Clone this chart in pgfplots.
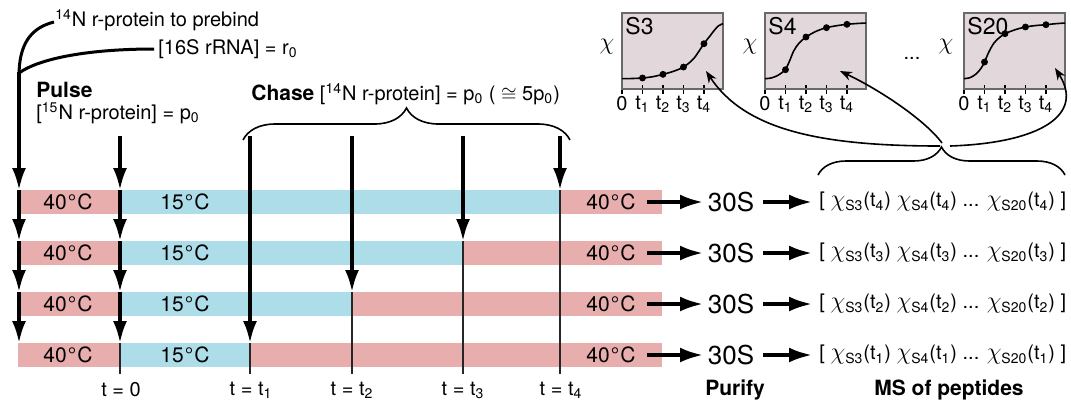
\documentclass[border=0pt]{standalone}
\usepackage{pgfplots}
\pgfplotsset{compat=1.18}
\usepackage{fontspec}
\setmainfont{TeX Gyre Heros}
\usetikzlibrary{arrows.meta,decorations.pathreplacing}

\definecolor{warm}{RGB}{232,174,174}
\definecolor{cool}{RGB}{173,221,232}
\definecolor{panel}{RGB}{226,216,219}
\definecolor{frame}{RGB}{105,105,105}

\newcommand\fs[1]{\fontsize{#1}{#1}\selectfont}
\newcommand\sub[1]{\textsubscript{#1}}
\newcommand\chis[1]{{\fs{12}$\chi$}\textsubscript{#1}}
\newcommand\chirow[1]{[ \chis{S3}(t\sub{#1}) \chis{S4}(t\sub{#1}) ... \chis{S20}(t\sub{#1}) ]}
\newcommand\hot{40\kern0.6pt°\kern0.6pt C}
\newcommand\cold{15\kern0.6pt°\kern0.6pt C}

\pgfplotsset{
  inset/.style={
    scale only axis, width=50.5pt, height=38pt,
    xmin=0, xmax=4.93, ymin=0, ymax=1,
    axis background/.style={fill=panel},
    axis line style={frame, line width=0.6pt},
    xtick={0,1,2,3,4},
    xticklabels={0,t\sub{1},t\sub{2},t\sub{3},t\sub{4}},
    ytick=\empty, xtick pos=left,
    tick align=center, major tick length=4.5pt,
    tick style={black, line width=0.6pt},
    xticklabel style={font=\fs{10}, inner sep=1pt},
    clip=false,
  },
  curve/.style={black, line width=0.8pt, smooth, no marks},
  dots/.style={only marks, mark=*, mark size=1.5pt, black},
}

\tikzset{
  bigarrow/.style={line width=1.7pt, -{Latex[length=11pt,width=7pt]}},
  rowarrow/.style={line width=1.8pt, -{Latex[length=11.5pt,width=7.5pt]}},
  thinrule/.style={line width=0.6pt, black!85},
  txt/.style={inner sep=0pt, font=\fs{10}},
  temp/.style={inner sep=0pt, font=\fs{10.5}},
  bend arrow/.style={overlay, line width=0.8pt, -{Stealth[length=6pt,width=4.5pt]}},
}

\begin{document}
\begin{tikzpicture}
% incorporation curves (panels placed in the 0.5pt-per-unit frame of the scheme below)
\begin{axis}[inset, at={(311pt,195.5pt)}, anchor=north west]
\addplot[curve] coordinates {(0,0.136) (0.5,0.138) (1,0.145) (1.5,0.162) (2,0.193) (2.5,0.232) (3,0.289) (3.5,0.40) (4,0.596) (4.3,0.70) (4.5,0.77) (4.7,0.83) (4.93,0.86)};
\addplot[dots] coordinates {(1,0.145) (2,0.193) (3,0.289) (4,0.596)};
\node[anchor=north west, inner sep=0pt, font=\fs{11.5}] at (rel axis cs:0.03,0.95) {S3};
\end{axis}
\begin{axis}[inset, at={(382.5pt,195.5pt)}, anchor=north west]
\addplot[curve] coordinates {(0,0.136) (0.3,0.145) (0.6,0.175) (0.85,0.22) (1,0.254) (1.2,0.37) (1.4,0.50) (1.65,0.60) (2,0.684) (2.5,0.76) (3,0.807) (3.5,0.833) (4,0.851) (4.5,0.862) (4.93,0.868)};
\addplot[dots] coordinates {(1,0.254) (2,0.684) (3,0.807) (4,0.851)};
\node[anchor=north west, inner sep=0pt, font=\fs{11.5}] at (rel axis cs:0.03,0.95) {S4};
\end{axis}
\begin{axis}[inset, at={(482pt,195.5pt)}, anchor=north west]
\addplot[curve] coordinates {(0,0.136) (0.3,0.15) (0.6,0.20) (0.85,0.28) (1,0.355) (1.2,0.48) (1.45,0.60) (1.7,0.67) (2,0.728) (2.5,0.78) (3,0.816) (3.5,0.835) (4,0.846) (4.5,0.86) (4.93,0.868)};
\addplot[dots] coordinates {(1,0.355) (2,0.728) (3,0.816) (4,0.846)};
\node[anchor=north west, inner sep=0pt, font=\fs{11.5}] at (rel axis cs:0.03,0.95) {S20};
\end{axis}

\begin{axis}[
  x=0.5pt, y=0.5pt, xmin=0, xmax=1071, ymin=0, ymax=404, y dir=reverse,
  hide axis, clip=false]
\addplot[draw=none, forget plot] coordinates {(0,0) (1071,404)};

% incubation rows: 40 C throughout, 15 C from t = 0 until the chase time of the row
\addplot[fill=warm, draw=none] coordinates {(18,190) (662,190) (662,214) (18,214)};
\addplot[fill=warm, draw=none] coordinates {(18,241) (662,241) (662,265) (18,265)};
\addplot[fill=warm, draw=none] coordinates {(18,292) (662,292) (662,316) (18,316)};
\addplot[fill=warm, draw=none] coordinates {(18,343) (662,343) (662,367) (18,367)};
\addplot[fill=cool, draw=none] coordinates {(120,190) (560,190) (560,214) (120,214)};
\addplot[fill=cool, draw=none] coordinates {(120,241) (463,241) (463,265) (120,265)};
\addplot[fill=cool, draw=none] coordinates {(120,292) (352,292) (352,316) (120,316)};
\addplot[fill=cool, draw=none] coordinates {(120,343) (250,343) (250,367) (120,367)};

% temperature labels
\pgfplotsinvokeforeach{202,253,304,355}{
  \node[temp] at (68,#1) {\hot};
  \node[temp] at (185,#1) {\cold};
  \node[temp] at (611,#1) {\hot};
  \node[txt, font=\fs{13}] at (731,#1) {30S};
}

% thin time markers below each chase point
\addplot[thinrule] coordinates {(120,343) (120,374)};
\addplot[thinrule] coordinates {(250,343) (250,374)};
\addplot[thinrule] coordinates {(352,292) (352,374)};
\addplot[thinrule] coordinates {(463,241) (463,374)};
\addplot[thinrule] coordinates {(560,190) (560,374)};

% prebinding line
\addplot[bigarrow] coordinates {(19,72) (19,190)};
\addplot[bigarrow] coordinates {(19,190) (19,241)};
\addplot[bigarrow] coordinates {(19,241) (19,292)};
\addplot[bigarrow] coordinates {(19,292) (19,343)};
% pulse line
\addplot[bigarrow] coordinates {(120,136) (120,190)};
\addplot[bigarrow] coordinates {(120,190) (120,241)};
\addplot[bigarrow] coordinates {(120,241) (120,292)};
\addplot[bigarrow] coordinates {(120,292) (120,343)};
% chase lines
\addplot[bigarrow] coordinates {(250,136) (250,343)};
\addplot[bigarrow] coordinates {(352,136) (352,292)};
\addplot[bigarrow] coordinates {(463,136) (463,241)};
\addplot[bigarrow] coordinates {(560,136) (560,190)};

\draw[line width=1.5pt] (54,22) .. controls (30,28) and (19,45) .. (19,76);
\draw[line width=1.5pt] (154,49) .. controls (90,49) and (40,58) .. (19,73);

\node[txt, anchor=west] at (55,20) {\textsuperscript{14}N r-protein to prebind};
\node[txt, anchor=west] at (158,49) {[16S rRNA] = r\sub{0}};
\node[txt, anchor=west, font=\fs{10.5}\bfseries] at (36,90) {Pulse};
\node[txt, anchor=west] at (36,113) {[\textsuperscript{15}N r-protein] = p\sub{0}};
\node[txt, anchor=west] at (251,94) {{\fs{10.5}\bfseries Chase} [\textsuperscript{14}N r-protein] = p\sub{0} ( $\cong$ 5p\sub{0})};

\draw[line width=0.8pt, decorate, decoration={brace, amplitude=16pt}] (243,140) -- (570,140);

% purification and mass spectrometry
\node[txt, anchor=west] at (819,202) {\chirow{4}};
\node[txt, anchor=west] at (819,253) {\chirow{3}};
\node[txt, anchor=west] at (819,304) {\chirow{2}};
\node[txt, anchor=west] at (819,355) {\chirow{1}};
\addplot[rowarrow] coordinates {(647,202) (703,202)};
\addplot[rowarrow] coordinates {(647,253) (703,253)};
\addplot[rowarrow] coordinates {(647,304) (703,304)};
\addplot[rowarrow] coordinates {(647,355) (703,355)};
\addplot[rowarrow] coordinates {(763,202) (812,202)};
\addplot[rowarrow] coordinates {(763,253) (812,253)};
\addplot[rowarrow] coordinates {(763,304) (812,304)};
\addplot[rowarrow] coordinates {(763,355) (812,355)};

% time axis labels
\node[txt] at (121,390) {t = 0};
\node[txt] at (251,390) {t = t\sub{1}};
\node[txt] at (352,390) {t = t\sub{2}};
\node[txt] at (463,390) {t = t\sub{3}};
\node[txt] at (561,390) {t = t\sub{4}};
\node[txt, font=\fs{10.5}\bfseries] at (735,390) {Purify};
\node[txt, font=\fs{10.5}\bfseries] at (949,390) {MS of peptides};

\draw[line width=0.8pt, decorate, decoration={brace, amplitude=14pt}] (818,175) -- (1065,175);
\draw[bend arrow] (940,146) .. controls (820,146) and (745,130) .. (706,71);
\draw[bend arrow] (942,143) .. controls (925,120) and (880,90) .. (840,71);
\draw[bend arrow] (950,146) .. controls (1040,143) and (1085,115) .. (1055,68);

\node[txt, font=\fs{13}] at (607,47) {$\chi$};
\node[txt, font=\fs{13}] at (750,47) {$\chi$};
\node[txt, font=\fs{13}] at (946,47) {$\chi$};
\node[txt] at (912,58) {...};
\end{axis}
\end{tikzpicture}
\end{document}
